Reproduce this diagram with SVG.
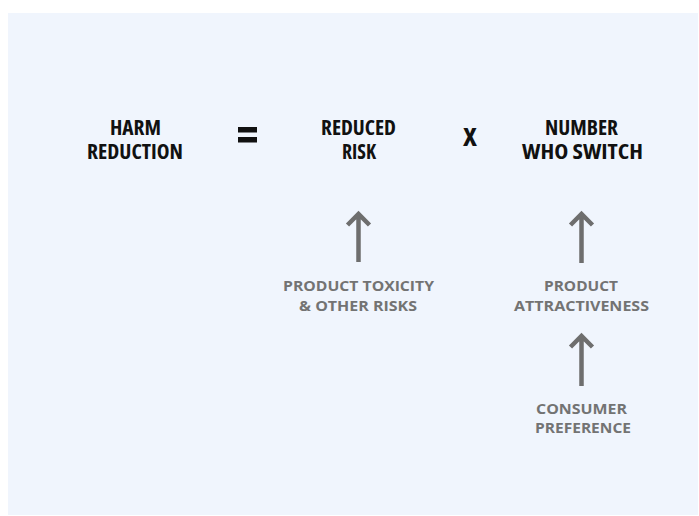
<svg xmlns="http://www.w3.org/2000/svg" width="699" height="516" viewBox="0 0 699 516">
<style>
.main{font-family:"Open Sans","DejaVu Sans Condensed","Liberation Sans",sans-serif;font-weight:700;font-stretch:condensed;font-size:21px;fill:#111;text-anchor:middle}
.big{font-size:25px}
.sub{font-family:"Open Sans","Liberation Sans",sans-serif;font-weight:700;font-size:15px;fill:#737373;text-anchor:middle}
.arr{fill:none;stroke:#6e6e6e;stroke-width:4.5;stroke-linejoin:miter;stroke-linecap:butt}
</style>
<rect x="0" y="0" width="699" height="516" fill="#fff"/>
<rect x="8" y="13" width="690" height="502" fill="#F0F5FD"/>
<g id="harm-reduction">
<text class="main" x="135.5" y="135" textLength="51" lengthAdjust="spacingAndGlyphs">HARM</text>
<text class="main" x="135" y="159" textLength="96" lengthAdjust="spacingAndGlyphs">REDUCTION</text>
</g>
<g id="equals">
<rect x="238" y="127" width="19" height="5.5" fill="#111"/>
<rect x="238" y="137" width="19" height="5.5" fill="#111"/>
</g>
<g id="reduced-risk">
<text class="main" x="358.5" y="135" textLength="75" lengthAdjust="spacingAndGlyphs">REDUCED</text>
<text class="main" x="359" y="159" textLength="34" lengthAdjust="spacingAndGlyphs">RISK</text>
</g>
<g id="times">
<text class="main big" x="470" y="146" textLength="14" lengthAdjust="spacingAndGlyphs">X</text>
</g>
<g id="number-who-switch">
<text class="main" x="581.5" y="135" textLength="73" lengthAdjust="spacingAndGlyphs">NUMBER</text>
<text class="main" x="582.5" y="159" textLength="121" lengthAdjust="spacingAndGlyphs">WHO SWITCH</text>
</g>
<g id="product-toxicity">
<text class="sub" x="358.5" y="291" textLength="151" lengthAdjust="spacingAndGlyphs">PRODUCT TOXICITY</text>
<text class="sub" x="358" y="311" textLength="118" lengthAdjust="spacingAndGlyphs">&amp; OTHER RISKS</text>
</g>
<g id="product-attractiveness">
<text class="sub" x="581" y="291" textLength="74" lengthAdjust="spacingAndGlyphs">PRODUCT</text>
<text class="sub" x="581.5" y="311" textLength="135" lengthAdjust="spacingAndGlyphs">ATTRACTIVENESS</text>
</g>
<g id="consumer-preference">
<text class="sub" x="581.5" y="413.5" textLength="91" lengthAdjust="spacingAndGlyphs">CONSUMER</text>
<text class="sub" x="583" y="433" textLength="96" lengthAdjust="spacingAndGlyphs">PREFERENCE</text>
</g>
<g id="connectors">
<path class="arr" d="M358.5,214 V262 M347.5,225 L358.5,214 L369.5,225"/>
<path class="arr" d="M581.5,214 V263 M570.5,225 L581.5,214 L592.5,225"/>
<path class="arr" d="M581.5,336 V386 M570.5,347 L581.5,336 L592.5,347"/>
</g>
</svg>
